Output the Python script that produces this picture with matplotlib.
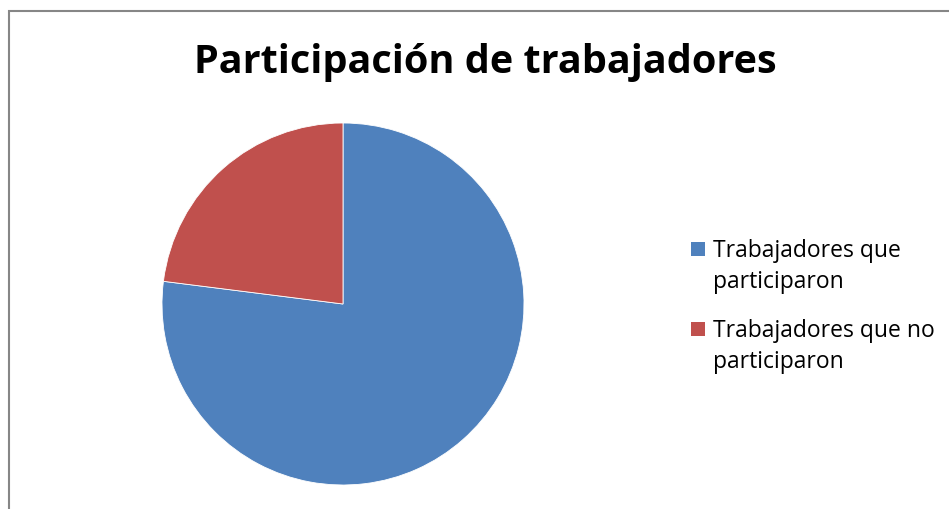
import matplotlib.pyplot as plt
from matplotlib.patches import Rectangle

# Data
labels = ["Trabajadores que\nparticiparon", "Trabajadores que no\nparticiparon"]
values = [77, 23]
colors = ["#4F81BD", "#C0504D"]
title = "Participación de trabajadores"

plt.rcParams["font.family"] = ["Open Sans", "DejaVu Sans"]

W, H = 949, 509
fig = plt.figure(figsize=(W / 100, H / 100), dpi=100)

# chart frame (right and bottom edges are cut off in the reference)
fig.patches.append(Rectangle((9 / W, -0.1), 1.2, 1 - 11 / H + 0.1,
                             transform=fig.transFigure, fill=False,
                             edgecolor="#868686", linewidth=1.5))

cx, cy, r = 343, 304, 181
ax = fig.add_axes([(cx - r) / W, (H - cy - r) / H, 2 * r / W, 2 * r / H])
wedges, _ = ax.pie(values, colors=colors, startangle=90, counterclock=False,
                   radius=1, wedgeprops={"edgecolor": "white", "linewidth": 0.6})
ax.set_xlim(-1, 1)
ax.set_ylim(-1, 1)
ax.axis("off")

fig.text(485 / W, 1 - 62 / H, title, ha="center", va="center",
         fontsize=28.5, fontweight="bold")

# legend, Excel style: square aligned with the first line of each label
for i, (lab, w) in enumerate(zip(labels, wedges)):
    y0 = 249 + i * 80
    fig.patches.append(Rectangle((691 / W, 1 - (y0 + 7) / H), 14 / W, 14 / H,
                                 transform=fig.transFigure,
                                 facecolor=w.get_facecolor(), edgecolor="none"))
    fig.text(713 / W, 1 - (y0 - 10) / H, lab, ha="left", va="top",
             fontsize=16.5, linespacing=1.4)

fig.savefig("out.png", dpi=100)
